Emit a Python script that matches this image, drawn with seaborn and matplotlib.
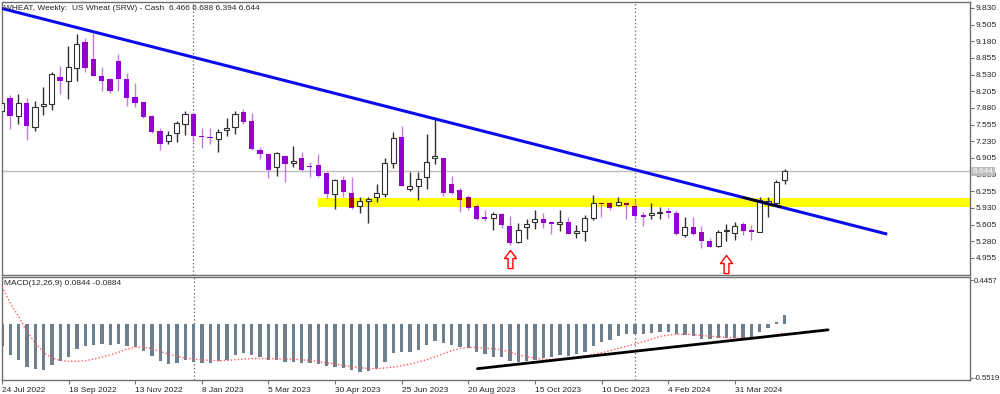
import numpy as np
import pandas as pd
import matplotlib
matplotlib.use("Agg")
import matplotlib.pyplot as plt
import seaborn as sns
from matplotlib.patches import Rectangle
from matplotlib.path import Path

# --------------------------------------------------
# DATA (weekly US Wheat SRW, 24 Jul 2022 .. May 2024)
# --------------------------------------------------

opens = [7.82, 8.08, 7.72, 7.98, 7.51, 7.92, 7.96, 8.49, 8.41, 8.65,
         9.16, 8.84, 8.50, 8.44, 8.80, 8.44, 8.10, 7.99, 7.72, 7.43,
         7.24, 7.39, 7.57, 7.76, 7.34, 7.32, 7.27, 7.45, 7.50, 7.81,
         7.63, 7.07, 6.98, 6.72, 6.95, 6.81, 6.91, 6.75, 6.77, 6.62,
         6.20, 6.48, 6.23, 5.96, 6.07, 6.15, 6.20, 6.81, 7.31, 6.30,
         6.36, 6.53, 6.90, 6.90, 6.39, 6.29, 6.14, 5.96, 5.75, 5.73,
         5.81, 5.58, 5.26, 5.56, 5.65, 5.72, 5.66, 5.62, 5.65, 5.44,
         5.49, 5.73, 6.03, 6.03, 5.99, 6.02, 5.96, 5.79, 5.79, 5.83,
         5.88, 5.84, 5.40, 5.55, 5.47, 5.29, 5.19, 5.49, 5.45, 5.62,
         5.50, 5.47, 6.00, 6.03, 6.466]

highs = [8.00, 8.13, 8.15, 8.07, 8.02, 8.29, 8.59, 8.69, 9.08, 9.32,
         9.25, 9.34, 8.67, 8.47, 8.93, 8.56, 8.36, 8.00, 7.75, 7.48,
         7.43, 7.63, 7.83, 7.81, 7.48, 7.48, 7.47, 7.69, 7.82, 7.86,
         7.79, 7.11, 6.99, 7.02, 6.96, 7.14, 7.03, 6.83, 6.98, 6.64,
         6.49, 6.55, 6.54, 6.14, 6.15, 6.39, 6.90, 7.42, 7.52, 6.63,
         6.64, 7.37, 7.66, 6.91, 6.55, 6.31, 6.18, 6.00, 5.89, 5.86,
         5.83, 5.77, 5.63, 5.71, 5.89, 5.83, 5.66, 5.89, 5.75, 5.60,
         5.79, 6.18, 6.04, 6.05, 6.15, 6.03, 6.10, 5.86, 6.02, 5.94,
         5.92, 5.90, 5.76, 5.76, 5.58, 5.34, 5.50, 5.61, 5.66, 5.66,
         5.60, 6.14, 6.14, 6.47, 6.688]

lows = [7.80, 7.47, 7.56, 7.26, 7.44, 7.74, 7.85, 8.15, 8.06, 8.41,
        8.59, 8.50, 8.22, 8.17, 8.22, 7.92, 7.90, 7.68, 7.40, 7.06,
        7.18, 7.22, 7.35, 7.21, 7.09, 7.18, 7.03, 7.34, 7.37, 7.56,
        7.06, 6.88, 6.51, 6.56, 6.44, 6.72, 6.65, 6.54, 6.54, 6.12,
        5.91, 6.14, 5.91, 5.84, 5.64, 6.05, 6.14, 6.70, 6.35, 6.26,
        6.09, 6.30, 6.78, 6.17, 6.20, 5.85, 5.89, 5.70, 5.68, 5.50,
        5.53, 5.21, 5.25, 5.32, 5.52, 5.53, 5.42, 5.49, 5.42, 5.35,
        5.28, 5.70, 5.76, 5.90, 5.97, 5.71, 5.70, 5.58, 5.71, 5.71,
        5.74, 5.40, 5.37, 5.40, 5.14, 5.16, 5.16, 5.29, 5.30, 5.40,
        5.30, 5.46, 5.76, 5.99, 6.394]

closes = [7.98, 7.72, 7.98, 7.53, 7.90, 7.95, 8.54, 8.41, 8.67, 9.13,
          8.65, 8.51, 8.41, 8.21, 8.44, 8.08, 7.97, 7.71, 7.42, 7.17,
          7.35, 7.59, 7.76, 7.33, 7.31, 7.29, 7.42, 7.48, 7.76, 7.61,
          7.08, 6.98, 6.67, 7.00, 6.78, 6.84, 6.67, 6.72, 6.55, 6.20,
          6.48, 6.24, 5.92, 6.07, 6.11, 6.23, 6.80, 7.29, 6.36, 6.36,
          6.49, 6.83, 6.95, 6.22, 6.22, 6.09, 5.92, 5.72, 5.72, 5.81,
          5.60, 5.24, 5.51, 5.61, 5.72, 5.64, 5.61, 5.66, 5.43, 5.49,
          5.73, 6.03, 6.01, 5.92, 6.05, 5.98, 5.78, 5.76, 5.84, 5.85,
          5.83, 5.42, 5.55, 5.43, 5.29, 5.16, 5.47, 5.51, 5.58, 5.48,
          5.47, 6.09, 6.06, 6.44, 6.644]

macd_main = [-0.226, -0.325, -0.375, -0.447, -0.464, -0.470, -0.423, -0.386, -0.341, -0.257,
             -0.226, -0.216, -0.206, -0.223, -0.206, -0.226, -0.240, -0.284, -0.328, -0.382,
             -0.409, -0.406, -0.375, -0.389, -0.399, -0.399, -0.386, -0.369, -0.321, -0.297,
             -0.321, -0.341, -0.375, -0.375, -0.392, -0.389, -0.403, -0.399, -0.413, -0.437,
             -0.440, -0.453, -0.477, -0.491, -0.484, -0.460, -0.396, -0.301, -0.294, -0.287,
             -0.270, -0.219, -0.175, -0.196, -0.213, -0.240, -0.246, -0.291, -0.314, -0.345,
             -0.341, -0.386, -0.392, -0.379, -0.369, -0.355, -0.341, -0.321, -0.328, -0.314,
             -0.287, -0.233, -0.189, -0.165, -0.124, -0.104, -0.104, -0.104, -0.097, -0.084,
             -0.084, -0.104, -0.117, -0.131, -0.158, -0.158, -0.151, -0.151, -0.151, -0.145,
             -0.138, -0.087, -0.046, 0.015, 0.0844]

macd_signal = [0.378, 0.208, 0.073, -0.080, -0.199, -0.294, -0.352, -0.375, -0.386, -0.386,
               -0.379, -0.362, -0.341, -0.318, -0.291, -0.260, -0.240, -0.240, -0.257, -0.284,
               -0.311, -0.335, -0.352, -0.362, -0.369, -0.375, -0.379, -0.375, -0.369, -0.362,
               -0.358, -0.355, -0.358, -0.358, -0.362, -0.362, -0.369, -0.375, -0.389, -0.399,
               -0.413, -0.426, -0.440, -0.450, -0.457, -0.460, -0.453, -0.443, -0.430, -0.413,
               -0.392, -0.369, -0.338, -0.308, -0.277, -0.253, -0.243, -0.243, -0.250, -0.257,
               -0.267, -0.291, -0.318, -0.338, -0.352, -0.362, -0.365, -0.358, -0.352, -0.341,
               -0.328, -0.314, -0.297, -0.277, -0.253, -0.229, -0.209, -0.185, -0.158, -0.131,
               -0.117, -0.107, -0.107, -0.110, -0.121, -0.128, -0.134, -0.141, -0.148, -0.151,
               -0.151, -0.151, -0.138, -0.117, -0.0884]

date_labels = ["24 Jul 2022", "18 Sep 2022", "13 Nov 2022", "8 Jan 2023",
               "5 Mar 2023", "30 Apr 2023", "25 Jun 2023", "20 Aug 2023",
               "15 Oct 2023", "10 Dec 2023", "4 Feb 2024", "31 Mar 2024"]

price_ticks = [9.830, 9.505, 9.180, 8.855, 8.530, 8.205, 7.880, 7.555,
               7.230, 6.905, 6.580, 6.255, 5.930, 5.605, 5.280, 4.955]
macd_ticks = [0.4457, -0.5519]

# chart objects drawn on the terminal
year_breaks = [23, 76]
band_start = 38
band_low, band_high = 5.94, 6.13
trend_idx = [-0.2, 106.3]
trend_price = [9.83, 5.42]
trend_dark_idx = [89, 93.5]
macd_trend_idx = [57.1, 99.2]
macd_trend_val = [-0.460, -0.063]
arrow_idx = [61, 87]
arrow_price = [4.935, 4.84]

# --------------------------------------------------
# STYLE
# --------------------------------------------------

sns.set_style("white")
plt.rcParams["font.family"] = ["Liberation Sans", "DejaVu Sans"]

FS = 6.0
BULL_EDGE = "#303030"
BEAR = "#9400D3"
BEAR_WICK = "#C47AEA"
IN_BAND = "#9A0A28"
FRAME = "#707070"

weeks = np.arange(len(closes))
df = pd.DataFrame({
    "week": weeks,
    "open": opens,
    "high": highs,
    "low": lows,
    "close": closes,
    "macd": macd_main,
    "signal": macd_signal,
})
bull = df[df["close"] >= df["open"]]
bear = df[df["close"] < df["open"]]

XMIN, XMAX = 0.036, 116.24

fig = plt.figure(figsize=(10, 3.94), dpi=100)
ax = fig.add_axes([0.002, 0.302, 0.968, 0.693])
ax2 = fig.add_axes([0.002, 0.0355, 0.968, 0.2614])

# --------------------------------------------------
# PRICE PANEL
# --------------------------------------------------

band = Rectangle(
    (band_start, band_low),
    XMAX - band_start,
    band_high - band_low,
    facecolor="#FFFF00",
    edgecolor="none",
    zorder=0.5
)
ax.add_patch(band)

for yb in year_breaks:
    ax.axvline(yb, color="#606060", lw=0.9, ls=(0, (1, 2)), zorder=0.6)
    ax2.axvline(yb, color="#606060", lw=0.9, ls=(0, (1, 2)), zorder=0.6)

ax.axhline(closes[-1], color="#BDBDBD", lw=1, zorder=0.7)

# wicks
ax.vlines(bull["week"], bull["low"], bull["high"], colors=BULL_EDGE, lw=1, zorder=2)
ax.vlines(bear["week"], bear["low"], bear["high"], colors=BEAR_WICK, lw=1, zorder=2)

# bodies
body_w = 0.62
ax.bar(
    bull["week"],
    np.maximum(bull["close"] - bull["open"], 0.02),
    bottom=bull["open"],
    width=body_w,
    color="white",
    edgecolor=BULL_EDGE,
    linewidth=0.8,
    zorder=3
)
ax.bar(
    bear["week"],
    np.maximum(bear["open"] - bear["close"], 0.02),
    bottom=bear["close"],
    width=body_w,
    color=BEAR,
    edgecolor="none",
    zorder=3
)
dark = ax.bar(
    bear["week"],
    np.maximum(bear["open"] - bear["close"], 0.02),
    bottom=bear["close"],
    width=body_w,
    color=IN_BAND,
    edgecolor="none",
    zorder=3.1
)
for p in dark.patches:
    p.set_clip_path(band)

# trend lines
slope = (trend_price[1] - trend_price[0]) / (trend_idx[1] - trend_idx[0])
ax.plot(trend_idx, trend_price, color="#0B0BEE", lw=2.2, zorder=4,
        solid_capstyle="butt")
dark_y = [trend_price[0] + slope * (x - trend_idx[0]) for x in trend_dark_idx]
ax.plot(trend_dark_idx, dark_y, color="black", lw=1.6, zorder=4.1)

# hollow arrows
arrow_path = Path(
    [(0, 0.75), (0.5, 0.08), (0.2, 0.08), (0.2, -0.75),
     (-0.2, -0.75), (-0.2, 0.08), (-0.5, 0.08), (0, 0.75)],
    [Path.MOVETO] + [Path.LINETO] * 6 + [Path.CLOSEPOLY]
)
ax.plot(arrow_idx, arrow_price, ls="none", marker=arrow_path,
        markersize=13, markerfacecolor="white", markeredgecolor="#FF0000",
        markeredgewidth=1.0, zorder=5, clip_on=False)

ax.set_xlim(XMIN, XMAX)
ax.set_ylim(4.623, 9.947)
ax.set_xticks([])
ax.yaxis.tick_right()
ax.set_yticks(price_ticks)
ax.set_yticklabels([f"{v:.3f}" for v in price_ticks])
ax.tick_params(axis="y", length=3, width=0.8, color=FRAME,
               labelsize=FS, pad=1, right=True, left=False)

ax.text(1.0025, closes[-1], f"{closes[-1]:.3f}",
        transform=ax.get_yaxis_transform(), fontsize=FS, color="white",
        va="center", ha="left", zorder=10, clip_on=False,
        bbox=dict(boxstyle="square,pad=0.15", fc="#BDBDBD", ec="none"))

ax.text(0.002, 0.988,
        f"WHEAT, Weekly:  US Wheat (SRW) - Cash  "
        f"{opens[-1]:.3f} {highs[-1]:.3f} {lows[-1]:.3f} {closes[-1]:.3f}",
        transform=ax.transAxes, fontsize=FS, va="top", ha="left", zorder=10)

# --------------------------------------------------
# MACD PANEL
# --------------------------------------------------

ax2.bar(
    df["week"],
    df["macd"],
    width=0.4,
    color="#6E7F8E",
    edgecolor="none",
    zorder=2
)
sns.lineplot(
    data=df,
    x="week",
    y="signal",
    color="#FF5A5A",
    lw=1,
    ls=(0, (1, 1.5)),
    ax=ax2,
    zorder=3
)
ax2.plot(macd_trend_idx, macd_trend_val, color="black", lw=2.0, zorder=4)

ax2.text(0.002, 0.97,
         f"MACD(12,26,9) {macd_main[-1]:.4f} {macd_signal[-1]:.4f}",
         transform=ax2.transAxes, fontsize=FS, va="top", ha="left")

ax2.set_xlim(XMIN, XMAX)
ax2.set_ylim(-0.576, 0.477)
ax2.set_xlabel("")
ax2.set_ylabel("")
ax2.yaxis.tick_right()
ax2.set_yticks(macd_ticks)
ax2.set_yticklabels([f"{v:.4f}" for v in macd_ticks])
ax2.tick_params(axis="y", length=2, width=0.8, color=FRAME,
                labelsize=5.6, pad=0.5, right=True, left=False)
ax2.set_xticks(np.arange(0, len(closes), 8))
ax2.set_xticklabels(date_labels)
ax2.tick_params(axis="x", length=3, width=0.8, color=FRAME,
                labelsize=FS, pad=2, bottom=True)
for lab in ax2.get_xticklabels():
    lab.set_horizontalalignment("left")

for a in (ax, ax2):
    for s in a.spines.values():
        s.set_color(FRAME)
        s.set_linewidth(1)

fig.savefig("out.png", dpi=100, facecolor="white")
